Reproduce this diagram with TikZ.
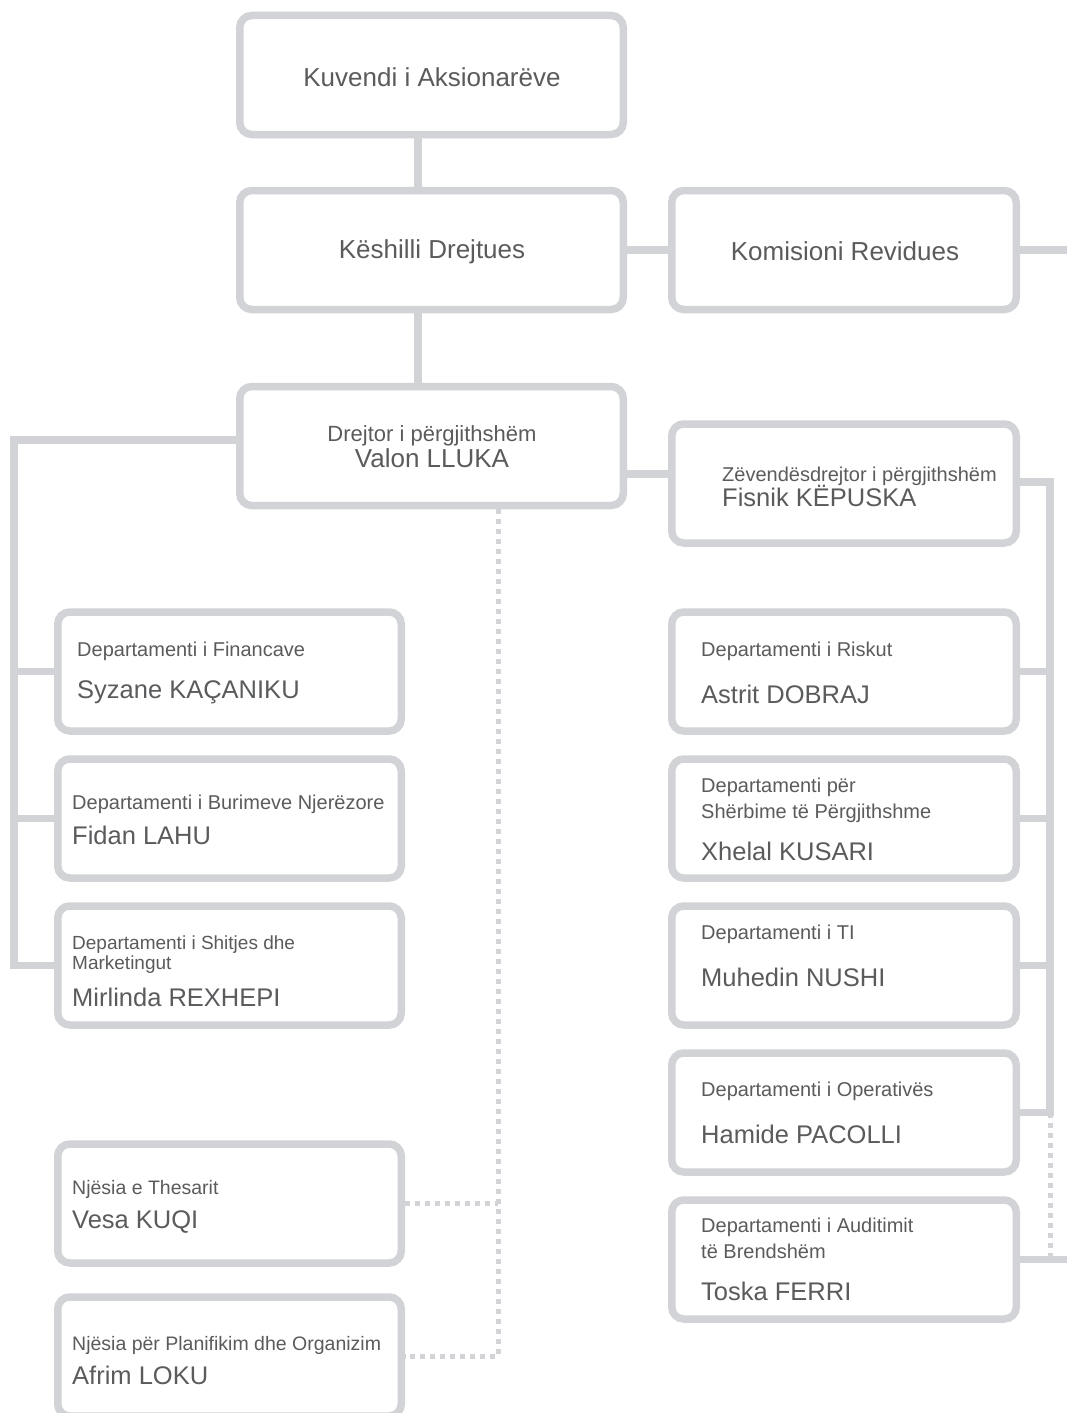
\documentclass[tikz,border=0pt]{standalone}
\usepackage{fontspec}
\setmainfont{Liberation Sans}
\definecolor{ln}{HTML}{D1D3D6}
\definecolor{tx}{HTML}{5A5B5D}
\begin{document}
\begin{tikzpicture}[x=1pt,y=-1pt,
 box/.style={draw=ln, line width=7.5pt, rounded corners=12pt, minimum height=119pt, inner sep=0pt},
 wbox/.style={box, minimum width=383.5pt},
 rbox/.style={box, minimum width=344.5pt},
 lbox/.style={box, minimum width=343.5pt},
 conn/.style={draw=ln, line width=7.5pt},
 dotln/.style={draw=ln, line width=5pt, dash pattern=on 5pt off 5pt},
 big/.style={text=tx, font=\fontsize{26}{30}\selectfont, inner sep=0pt, anchor=base},
 ttl/.style={text=tx, font=\fontsize{20}{26}\selectfont, inner sep=0pt, anchor=base west},
 nm/.style={text=tx, font=\fontsize{25.5}{30}\selectfont, inner sep=0pt, anchor=base west},
]
\clip (0,0) rectangle (1067,1413);
\fill[white] (0,0) rectangle (1067,1413);
% boxes
\node[wbox] (B1) at (431.5,75) {};
\node[wbox] (B2) at (431.5,250) {};
\node[rbox] (B3) at (844,250) {};
\node[wbox] (B4) at (431.5,446) {};
\node[rbox] (B5) at (844,483.5) {};
\node[lbox] (L1) at (229.5,671.5) {};
\node[lbox] (L2) at (229.5,818.5) {};
\node[lbox] (L3) at (229.5,965.5) {};
\node[lbox] (L4) at (229.5,1203.5) {};
\node[lbox] (L5) at (229.5,1356.5) {};
\node[rbox] (R1) at (844,671.5) {};
\node[rbox] (R2) at (844,818.5) {};
\node[rbox] (R3) at (844,965.5) {};
\node[rbox] (R4) at (844,1112.5) {};
\node[rbox] (R5) at (844,1259.5) {};
% helper coordinates
\coordinate (vx) at (418,0);
\coordinate (lb) at (14,0);
\coordinate (rb) at (1050,0);
\coordinate (dv) at (498,0);
\coordinate (hz) at (0,474);
\coordinate (edge) at (1067,0);
% connectors
\draw[conn] (B1.south -| vx) -- (B2.north -| vx);
\draw[conn] (B2.south -| vx) -- (B4.north -| vx);
\draw[conn] (B2.east) -- (B3.west);
\draw[conn] (B3.east) -- (B3.east -| edge);
\draw[conn] (B4.east |- hz) -- (B5.west |- hz);
\draw[conn] ([yshift=6pt]B4.west) -| (L3.west -| lb) -- (L3.west);
\draw[conn] (L1.west) -- (L1.west -| lb);
\draw[conn] (L2.west) -- (L2.west -| lb);
\draw[conn] ([yshift=1.5pt]B5.east) -| (R4.east -| rb) -- (R4.east);
\draw[conn] (R1.east) -- (R1.east -| rb);
\draw[conn] (R2.east) -- (R2.east -| rb);
\draw[conn] (R3.east) -- (R3.east -| rb);
\draw[conn] (R5.east) -- (R5.east -| edge);
\draw[dotln] (R4.east -| rb) -- (R5.east -| rb);
\draw[dotln] (B4.south -| dv) -- (L5.east -| dv) -- (L5.east);
\draw[dotln] (L4.east) -- (L4.east -| dv);
% texts
\node[big] (t1) at (432,86) {Kuvendi i Aksionarëve};
\node[big] (t2) at (432,258) {Këshilli Drejtues};
\node[big] (t3) at (845,260) {Komisioni Revidues};
\node[big, font=\fontsize{22}{26}\selectfont] (t4a) at (432,441) {Drejtor i përgjithshëm};
\node[big] (t4b) at (432,467) {Valon LLUKA};
\node[ttl] (t5a) at (722,481) {Zëvendësdrejtor i përgjithshëm};
\node[nm] (t5b) at (722,506) {Fisnik KËPUSKA};
\node[ttl] (l1a) at (77,656) {Departamenti i Financave};
\node[nm] (l1b) at (77,698) {Syzane KAÇANIKU};
\node[ttl] (l2a) at (72,809) {Departamenti i Burimeve Njerëzore};
\node[nm] (l2b) at (72,844) {Fidan LAHU};
\node[ttl, align=left, font=\fontsize{19}{20}\selectfont] (l3a) at (72,969) {Departamenti i Shitjes dhe\\Marketingut};
\node[nm] (l3b) at (72,1006) {Mirlinda REXHEPI};
\node[ttl, font=\fontsize{19.5}{24}\selectfont] (l4a) at (72,1194) {Njësia e Thesarit};
\node[nm] (l4b) at (72,1228) {Vesa KUQI};
\node[ttl, font=\fontsize{19.5}{24}\selectfont] (l5a) at (72,1350) {Njësia për Planifikim dhe Organizim};
\node[nm] (l5b) at (72,1384) {Afrim LOKU};
\node[ttl] (r1a) at (701,656) {Departamenti i Riskut};
\node[nm] (r1b) at (701,703) {Astrit DOBRAJ};
\node[ttl, align=left] (r2a) at (701,818) {Departamenti për\\Shërbime të Përgjithshme};
\node[nm] (r2b) at (701,860) {Xhelal KUSARI};
\node[ttl] (r3a) at (701,939) {Departamenti i TI};
\node[nm] (r3b) at (701,986) {Muhedin NUSHI};
\node[ttl] (r4a) at (701,1096) {Departamenti i Operativës};
\node[nm] (r4b) at (701,1143) {Hamide PACOLLI};
\node[ttl, align=left] (r5a) at (701,1258) {Departamenti i Auditimit\\të Brendshëm};
\node[nm] (r5b) at (701,1300) {Toska FERRI};
\end{tikzpicture}
\end{document}
